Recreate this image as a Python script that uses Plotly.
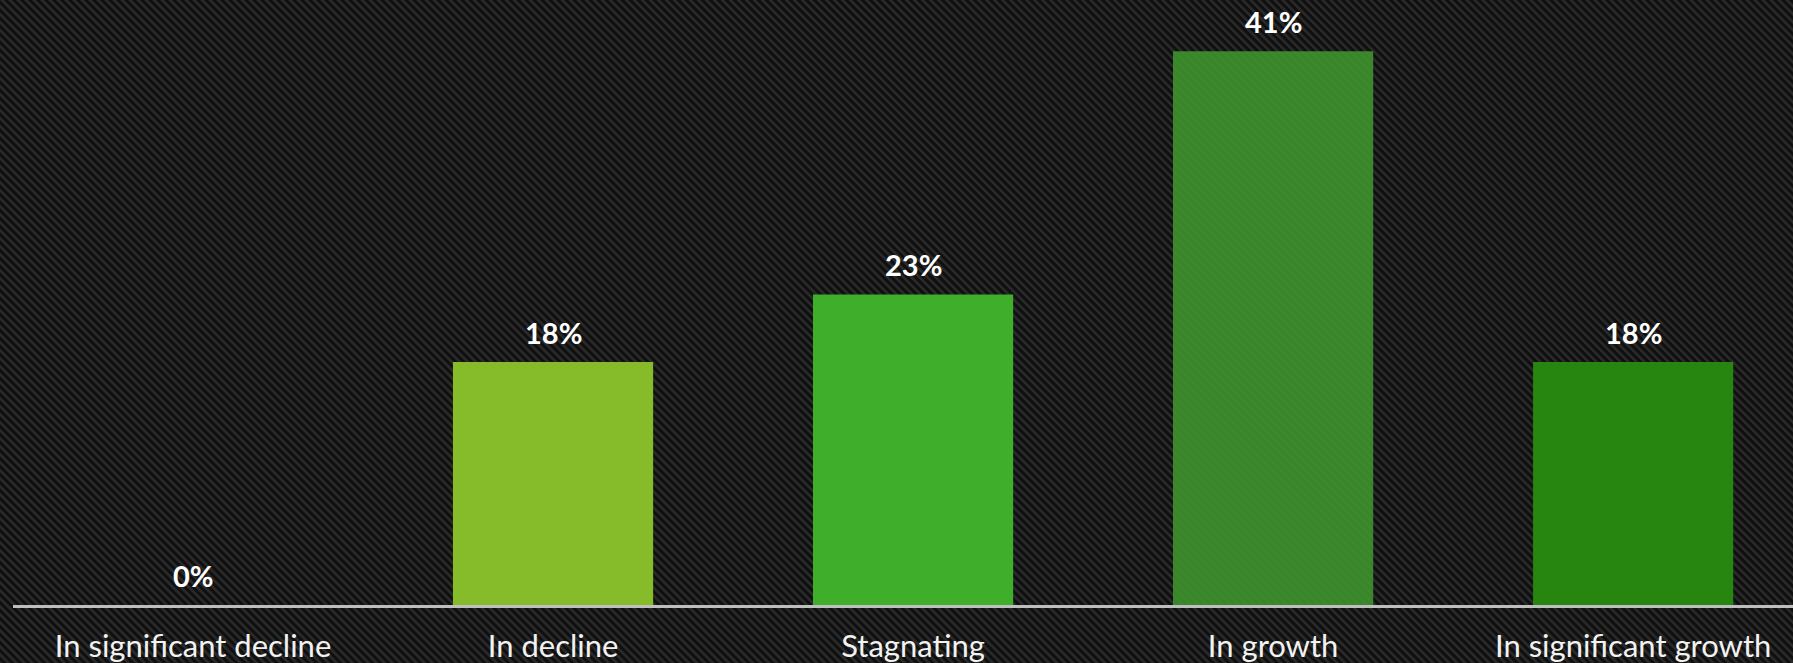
import plotly.graph_objects as go
import base64

categories = ["In significant decline", "In decline", "Stagnating", "In growth", "In significant growth"]
values = [0, 18, 23, 41, 18]
labels = ["0%", "18%", "23%", "41%", "18%"]
colors = ["#86bc29", "#86bc29", "#3fae2a", "rgba(63,155,46,0.85)", "#26860f"]

W, H = 1793, 663

svg = f'''<svg xmlns="http://www.w3.org/2000/svg" width="{W}" height="{H}" viewBox="0 0 {W} {H}" preserveAspectRatio="none">
<defs><pattern id="p" patternUnits="userSpaceOnUse" width="5.66" height="5.66" patternTransform="rotate(-45)">
<rect width="5.66" height="5.66" fill="#0f0f0f"/><rect width="2.6" height="5.66" fill="#2a2a2a"/></pattern></defs>
<rect width="{W}" height="{H}" fill="url(#p)"/></svg>'''
uri = "data:image/svg+xml;base64," + base64.b64encode(svg.encode()).decode()

ml, mr, mt, mb = 13, 0, 0, 58
pw, ph = W - ml - mr, H - mt - mb

fig = go.Figure()
fig.add_trace(go.Bar(
    x=categories, y=values,
    marker=dict(color=colors, line=dict(width=0)),
    width=0.556,
    hoverinfo="skip",
))
for c, v, t in zip(categories, values, labels):
    fig.add_annotation(x=c, y=v, text=t, showarrow=False, yanchor="bottom", yshift=10,
                       font=dict(family="Lato", size=29, color="#ffffff", weight="bold"))

fig.add_layout_image(dict(source=uri, xref="paper", yref="paper",
                          x=-ml / pw, y=1 + mt / ph, sizex=W / pw, sizey=H / ph,
                          xanchor="left", yanchor="top", sizing="stretch", layer="below"))

fig.update_layout(
    width=W, height=H,
    margin=dict(l=ml, r=mr, t=mt, b=mb),
    paper_bgcolor="#121212", plot_bgcolor="rgba(0,0,0,0)",
    showlegend=False,
    xaxis=dict(range=[-0.5, 4.444], showgrid=False, zeroline=False, showline=True,
               linecolor="#bfbfbf", linewidth=2.5, ticks="", automargin=False,
               ticklabelstandoff=12,
               tickfont=dict(family="Lato", size=31, color="#f2f2f2"), fixedrange=True),
    yaxis=dict(range=[0, 44.8], visible=False, showgrid=False, zeroline=False, fixedrange=True),
)
fig.write_html("out.html", config={"displayModeBar": False},
               post_script="document.body.style.margin='0';document.body.style.overflow='hidden';document.body.style.background='#121212';")
